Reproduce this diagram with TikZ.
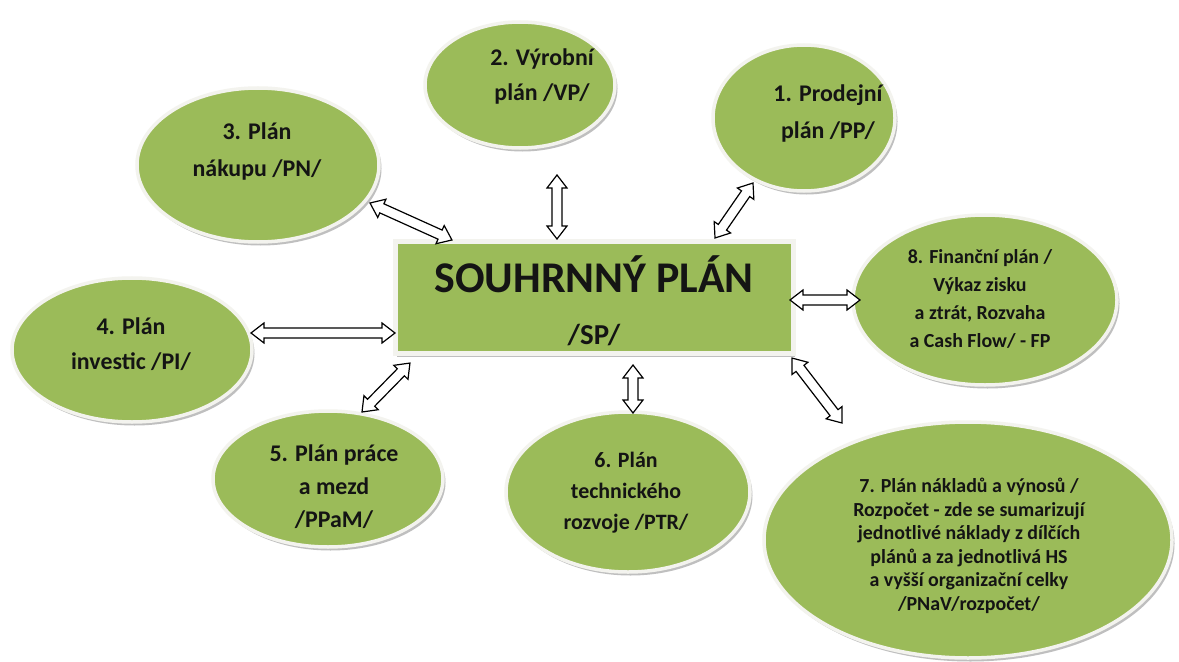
\documentclass[tikz,border=0pt]{standalone}
\usepackage{fontspec}
\setmainfont{Carlito}
\usetikzlibrary{shapes.geometric,shadows,calc}
\definecolor{leaf}{HTML}{9BBB59}
\definecolor{rim}{HTML}{F3F3EE}
\tikzset{
  plan/.style={ellipse, fill=leaf, draw=rim, line width=3.5bp, inner sep=0pt,
    drop shadow={shadow xshift=2.5bp, shadow yshift=-3.5bp, fill=black!45, opacity=0.55}},
  hub/.style={rectangle, fill=leaf, draw=rim, line width=5bp, inner sep=0pt,
    drop shadow={shadow xshift=1.5bp, shadow yshift=-4bp, fill=black!45, opacity=0.55}},
  label/.style={align=center, text=black!92, inner sep=0pt, font=\bfseries},
  arrowbox/.style={draw=black, fill=white, line width=1.2bp, line join=miter},
}
\newcommand\hollowarrow[2]{%
  \draw[arrowbox] let \p1=(#1), \p2=(#2),
    \n1={atan2(\y2-\y1,\x2-\x1)}, \n2={veclen(\x2-\x1,\y2-\y1)} in
    [shift={(\p1)}, rotate=\n1]
    (0pt,0pt) -- (13bp,10bp) -- (13bp,5bp) -- ({\n2-13bp},5bp) -- ({\n2-13bp},10bp)
    -- ({\n2+0pt},0pt) -- ({\n2-13bp},-10bp) -- ({\n2-13bp},-5bp) -- (13bp,-5bp)
    -- (13bp,-10bp) -- cycle;}
\begin{document}
\begin{tikzpicture}[x=1bp,y=-1bp]
\fill[white] (0,0) rectangle (1179,662);
\useasboundingbox (0,0) rectangle (1179,662);

% ellipses
\node[plan, minimum width=182bp, minimum height=146bp] (n1) at (804,118) {};
\node[plan, minimum width=190bp, minimum height=126bp] (n2) at (520,85) {};
\node[plan, minimum width=242bp, minimum height=154bp] (n3) at (258,165) {};
\node[plan, minimum width=240bp, minimum height=144bp] (n4) at (132,350) {};
\node[plan, minimum width=230bp, minimum height=136bp] (n5) at (328,479) {};
\node[plan, minimum width=244bp, minimum height=160bp] (n6) at (628,492) {};
\node[plan, minimum width=408bp, minimum height=236bp] (n7) at (968,540) {};
\node[plan, minimum width=264bp, minimum height=170bp] (n8) at (985,300) {};

% central box
\node[hub, minimum width=398bp, minimum height=111bp] (sp) at (594,297.5) {};
\node[label, anchor=base, font=\fontsize{44}{50}\selectfont\bfseries] (sptitle) at (594,292) {SOUHRNNÝ PLÁN};
\node[label, anchor=base, font=\fontsize{29}{34}\selectfont\bfseries] (spcode) at (594,344) {/SP/};

% texts
\node[label, font=\fontsize{24}{37}\selectfont\bfseries] (t1) at (828,113.5) {1. Prodejní\\plán /PP/};
\node[label, font=\fontsize{24}{35}\selectfont\bfseries] (t2) at (542,76.5) {2. Výrobní\\plán /VP/};
\node[label, font=\fontsize{24}{37}\selectfont\bfseries] (t3) at (257,151.5) {3. Plán\\nákupu /PN/};
\node[label, font=\fontsize{24}{35}\selectfont\bfseries] (t4) at (131,344.5) {4. Plán\\investic /PI/};
\node[label, font=\fontsize{24}{33}\selectfont\bfseries] (t5) at (334,487) {5. Plán práce\\a mezd\\/PPaM/};
\node[label, font=\fontsize{22}{31}\selectfont\bfseries] (t6) at (626,493) {6. Plán\\technického\\rozvoje /PTR/};
\node[label, font=\fontsize{20}{23.6}\selectfont\bfseries] (t7) at (969,546) {7. Plán nákladů a výnosů /\\Rozpočet - zde se sumarizují\\jednotlivé náklady z dílčích\\plánů a za jednotlivá HS\\a vyšší organizační celky\\/PNaV/rozpočet/};
\node[label, font=\fontsize{20}{28}\selectfont\bfseries] (t8) at (980,299) {8. Finanční plán /\\Výkaz zisku\\a ztrát, Rozvaha\\a Cash Flow/ - FP};

% connector end points
\coordinate (a1) at (753,183); \coordinate (b1) at (715,238);
\coordinate (a2) at (557,175); \coordinate (b2) at (557,239);
\coordinate (a3) at (370,203); \coordinate (b3) at (452,240);
\coordinate (a4) at (251,333); \coordinate (b4) at (395,333);
\coordinate (a5) at (362,412); \coordinate (b5) at (410,363);
\coordinate (a6) at (633,365); \coordinate (b6) at (633,413);
\coordinate (a7) at (842,423); \coordinate (b7) at (792,358);
\coordinate (a8) at (860,300); \coordinate (b8) at (790,300);

\hollowarrow{a1}{b1}
\hollowarrow{a2}{b2}
\hollowarrow{a3}{b3}
\hollowarrow{a4}{b4}
\hollowarrow{a5}{b5}
\hollowarrow{a6}{b6}
\hollowarrow{a7}{b7}
\hollowarrow{a8}{b8}
\end{tikzpicture}
\end{document}
